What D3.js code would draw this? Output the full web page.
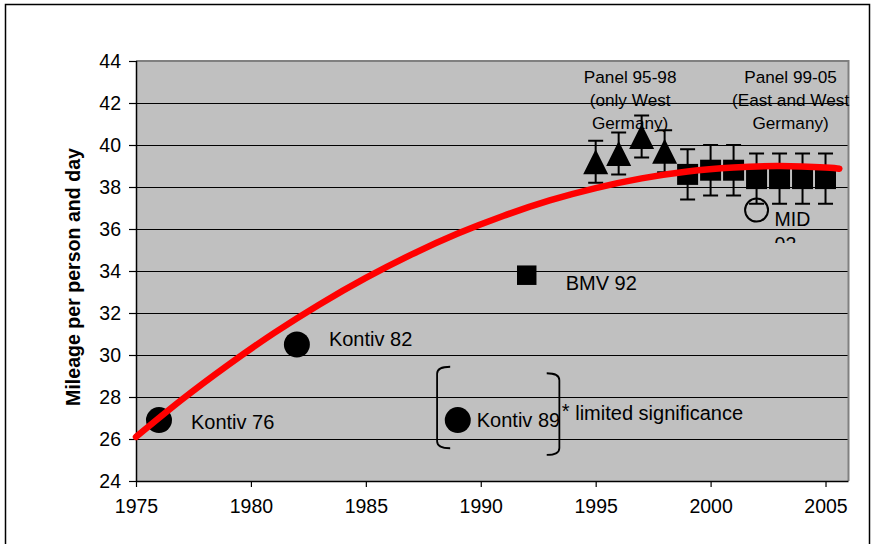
<!DOCTYPE html>
<html>
<head>
<meta charset="utf-8">
<script src="https://cdn.jsdelivr.net/npm/d3@7"></script>
<style>
  body { margin: 0; background: #ffffff; }
  text { font-family: "Liberation Sans", Arial, sans-serif; fill: #000; }
</style>
</head>
<body>
<svg id="chart" width="874" height="544"></svg>
<script>
// ---- data -------------------------------------------------------------
const kontivYears  = [1976, 1982, 1989];
const kontivValues = [26.9, 30.5, 26.9];
const kontivLabels = ["Kontiv 76", "Kontiv 82", "Kontiv 89"];

const bmvYears  = [1992];
const bmvValues = [33.8];
const bmvLabels = ["BMV 92"];

const panelWestYears  = [1995, 1996, 1997, 1998];
const panelWestValues = [39.2, 39.6, 40.4, 39.7];
const panelWestErrors = [1.0, 1.0, 1.0, 1.0];

const panelAllYears  = [1999, 2000, 2001, 2002, 2003, 2004, 2005];
const panelAllValues = [38.6, 38.8, 38.8, 38.4, 38.4, 38.4, 38.4];
const panelAllErrors = [1.2, 1.2, 1.2, 1.2, 1.2, 1.2, 1.2];

const midYears  = [2002];
const midValues = [36.9];
const midLabelLines = ["MID", "02"];

const trendYears  = [1975, 1977, 1979, 1981, 1983, 1985, 1987, 1989, 1991, 1993, 1995, 1997, 1999, 2001, 2003, 2005, 2005.6];
const trendValues = [26.10, 27.88, 29.52, 31.04, 32.42, 33.67, 34.79, 35.78, 36.63, 37.36, 37.95, 38.41, 38.74, 38.93, 39.00, 38.93, 38.87];

const xTickValues = [1975, 1980, 1985, 1990, 1995, 2000, 2005];
const yTickValues = [24, 26, 28, 30, 32, 34, 36, 38, 40, 42, 44];

const yAxisTitle = "Mileage per person and day";
const panelWestNote = ["Panel 95-98", "(only West", "Germany)"];
const panelAllNote  = ["Panel 99-05", "(East and West", "Germany)"];
const significanceNote = "* limited significance";

// ---- layout -----------------------------------------------------------
const plot = { left: 136, right: 848.5, top: 61, bottom: 481 };

const x = d3.scaleLinear().domain([1975, 2006]).range([plot.left, plot.right]);
const y = d3.scaleLinear().domain([24, 44]).range([plot.bottom, plot.top]);

const svg = d3.select("#chart");
const font = '"Liberation Sans", Arial, sans-serif';

// outer frame
svg.append("rect")
  .attr("x", 5.5).attr("y", 4.5).attr("width", 864).attr("height", 600)
  .attr("fill", "#ffffff").attr("stroke", "#000").attr("stroke-width", 1.5);

// plot background
svg.append("rect")
  .attr("x", plot.left).attr("y", plot.top)
  .attr("width", plot.right - plot.left).attr("height", plot.bottom - plot.top)
  .attr("fill", "#c0c0c0");

// horizontal gridlines
svg.append("g")
  .selectAll("line")
  .data(yTickValues.filter(v => v > 24 && v < 44))
  .join("line")
  .attr("x1", plot.left).attr("x2", plot.right)
  .attr("y1", d => Math.round(y(d)) + 0.5).attr("y2", d => Math.round(y(d)) + 0.5)
  .attr("stroke", "#000").attr("stroke-width", 1);

// gray border on top and right of plot area
svg.append("path")
  .attr("d", `M${plot.left},${plot.top} H${plot.right} V${plot.bottom}`)
  .attr("fill", "none").attr("stroke", "#808080").attr("stroke-width", 2);

// axes
const yAxis = d3.axisLeft(y).tickValues(yTickValues).tickSize(7).tickPadding(8).tickFormat(d3.format("d"));
const xAxis = d3.axisBottom(x).tickValues(xTickValues).tickSize(6).tickPadding(12).tickFormat(d3.format("d"));

const gy = svg.append("g").attr("transform", `translate(${plot.left},0)`).call(yAxis);
const gx = svg.append("g").attr("transform", `translate(0,${plot.bottom})`).call(xAxis);

[gx, gy].forEach(g => {
  g.select(".domain").attr("stroke", "#000").attr("stroke-width", 1.5);
  g.selectAll(".tick line").attr("stroke", "#000").attr("stroke-width", 1.2);
  g.selectAll(".tick text").attr("font-family", font).attr("font-size", 19.5).attr("fill", "#000");
});
gx.select(".domain").attr("d", `M${plot.left},0.5H${plot.right}`);
gy.select(".domain").attr("d", `M0.5,${plot.top}V${plot.bottom}`);

// y axis title, sized to run along the plot height
const title = svg.append("text")
  .attr("transform", `translate(80,277) rotate(-90)`)
  .attr("text-anchor", "middle")
  .attr("font-size", 20).attr("font-weight", "bold")
  .text(yAxisTitle);
const titleLen = title.node().getComputedTextLength();
title.attr("font-size", 20 * 258 / titleLen);

// ---- markers ----------------------------------------------------------
const marks = svg.append("g");

// error bars
function errorBars(years, values, errors) {
  const rows = years.map((yr, i) => ({ yr, v: values[i], e: errors[i] }));
  const g = marks.append("g").attr("stroke", "#000").attr("stroke-width", 2).attr("fill", "none");
  g.selectAll("path").data(rows).join("path")
    .attr("d", d => {
      const cx = x(d.yr), t = y(d.v + d.e), b = y(d.v - d.e), h = 7.5;
      return `M${cx},${t}V${b}M${cx - h},${t}H${cx + h}M${cx - h},${b}H${cx + h}`;
    });
}
errorBars(panelWestYears, panelWestValues, panelWestErrors);
errorBars(panelAllYears, panelAllValues, panelAllErrors);

// triangles (bounding box centred on the value)
marks.append("g").selectAll("path")
  .data(panelWestYears.map((yr, i) => ({ yr, v: panelWestValues[i] })))
  .join("path")
  .attr("d", d => {
    const cx = x(d.yr), cy = y(d.v), s = 12.5;
    return `M${cx},${cy - s}L${cx + s},${cy + s}L${cx - s},${cy + s}Z`;
  })
  .attr("fill", "#000");

// squares
marks.append("g").selectAll("path")
  .data(panelAllYears.map((yr, i) => ({ yr, v: panelAllValues[i] })))
  .join("path")
  .attr("transform", d => `translate(${x(d.yr)},${y(d.v)})`)
  .attr("d", d3.symbol(d3.symbolSquare, 21 * 21))
  .attr("fill", "#000");

marks.append("g").selectAll("path")
  .data(bmvYears.map((yr, i) => ({ yr, v: bmvValues[i] })))
  .join("path")
  .attr("transform", d => `translate(${x(d.yr)},${y(d.v)})`)
  .attr("d", d3.symbol(d3.symbolSquare, 19.5 * 19.5))
  .attr("fill", "#000");

// Kontiv circles
marks.append("g").selectAll("circle")
  .data(kontivYears.map((yr, i) => ({ yr, v: kontivValues[i] })))
  .join("circle")
  .attr("cx", d => x(d.yr)).attr("cy", d => y(d.v)).attr("r", 13)
  .attr("fill", "#000");

// MID hollow circle
marks.append("g").selectAll("circle")
  .data(midYears.map((yr, i) => ({ yr, v: midValues[i] })))
  .join("circle")
  .attr("cx", d => x(d.yr)).attr("cy", d => y(d.v)).attr("r", 11.5)
  .attr("fill", "none").attr("stroke", "#000").attr("stroke-width", 2);

// trend curve
const trendLine = d3.line()
  .x(d => x(d.yr)).y(d => y(d.v))
  .curve(d3.curveNatural);
svg.append("path")
  .datum(trendYears.map((yr, i) => ({ yr, v: trendValues[i] })))
  .attr("d", trendLine)
  .attr("fill", "none").attr("stroke", "#ff0000").attr("stroke-width", 6.5)
  .attr("stroke-linecap", "round");

// ---- annotations ------------------------------------------------------
const labelOffsets = [
  { dx: 32, dy: 8.5 },
  { dx: 32, dy: 1.5 },
  { dx: 19, dy: 7 }
];
svg.append("g").selectAll("text")
  .data(kontivLabels.map((t, i) => ({ t, yr: kontivYears[i], v: kontivValues[i], o: labelOffsets[i] })))
  .join("text")
  .attr("x", d => x(d.yr) + d.o.dx).attr("y", d => y(d.v) + d.o.dy)
  .attr("font-size", 20)
  .text(d => d.t);

svg.append("g").selectAll("text")
  .data(bmvLabels.map((t, i) => ({ t, yr: bmvYears[i], v: bmvValues[i] })))
  .join("text")
  .attr("x", d => x(d.yr) + 39).attr("y", d => y(d.v) + 15)
  .attr("font-size", 20)
  .text(d => d.t);

// MID 02 label in a clipped text box
svg.append("clipPath").attr("id", "midClip")
  .append("rect")
  .attr("x", x(midYears[0]) + 10).attr("y", y(midValues[0]) - 12)
  .attr("width", 70).attr("height", 45);
const midText = svg.append("text")
  .attr("clip-path", "url(#midClip)")
  .attr("font-size", 19.5);
midLabelLines.forEach((line, i) => {
  midText.append("tspan")
    .attr("x", x(midYears[0]) + 18)
    .attr("y", y(midValues[0]) + 15.5 + i * 25.5)
    .text(line);
});

// panel notes
function panelNote(lines, centreYear) {
  const t = svg.append("text").attr("text-anchor", "middle").attr("font-size", 17.2);
  lines.forEach((line, i) => {
    t.append("tspan").attr("x", x(centreYear)).attr("y", 83.3 + i * 22.7).text(line);
  });
}
panelNote(panelWestNote, 1996.5);
panelNote(panelAllNote, 2003.48);

// brackets around the Kontiv 89 point
const bracketSpec = [
  { xv: 1988.1, xh: 1988.67, top: 29.44, bottom: 25.56 },
  { xv: 1993.42, xh: 1992.87, top: 29.13, bottom: 25.24 }
];
svg.append("g").selectAll("path")
  .data(bracketSpec)
  .join("path")
  .attr("d", d => {
    const xv = x(d.xv), xh = x(d.xh), t = y(d.top), b = y(d.bottom), r = 7;
    return `M${xh},${t}Q${xv},${t} ${xv},${t + r}V${b - r}Q${xv},${b} ${xh},${b}`;
  })
  .attr("fill", "none").attr("stroke", "#000").attr("stroke-width", 1.8);

// asterisk sits slightly raised, note text follows
const note = svg.append("text")
  .attr("x", x(1993.42) + 2.5).attr("y", 420)
  .attr("font-size", 20);
note.append("tspan").attr("dy", -2).text(significanceNote.slice(0, 1));
note.append("tspan").attr("dy", 2).text(significanceNote.slice(1));
</script>
</body>
</html>
